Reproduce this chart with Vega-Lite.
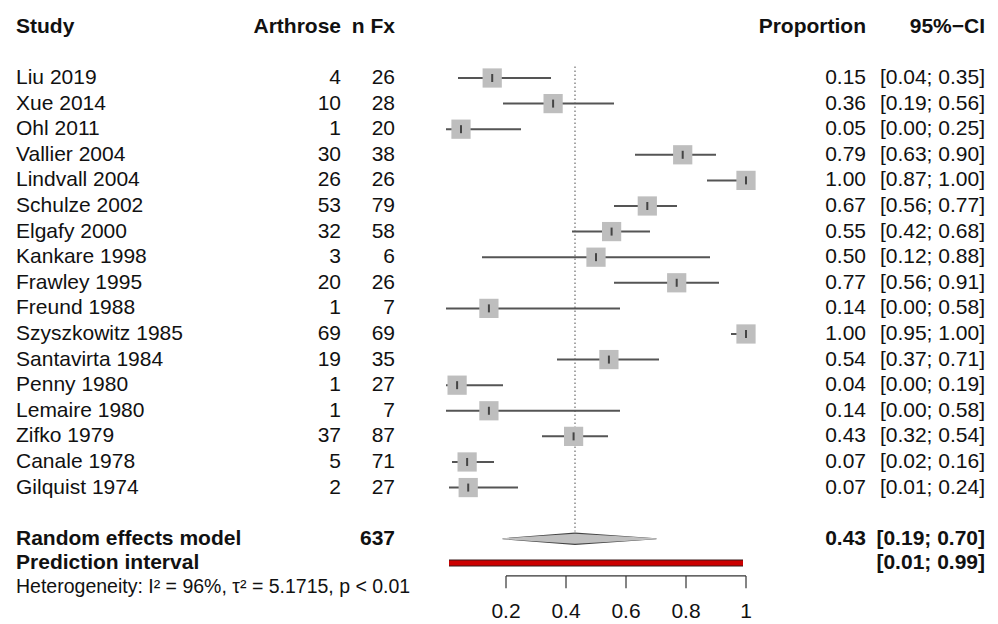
{
  "$schema": "https://vega.github.io/schema/vega-lite/v6.json",
  "width": 998,
  "height": 624,
  "padding": 0,
  "autosize": {"type": "fit", "contains": "padding"},
  "background": "white",
  "config": {
    "view": {"stroke": null},
    "text": {"font": "Liberation Sans", "fontSize": 21, "color": "#111111"}
  },
  "datasets": {
    "studies": [
      {"study": "Liu 2019", "events": 4, "n": 26, "prop": 0.154, "lo": 0.04, "hi": 0.35, "row": 1},
      {"study": "Xue 2014", "events": 10, "n": 28, "prop": 0.357, "lo": 0.19, "hi": 0.56, "row": 2},
      {"study": "Ohl 2011", "events": 1, "n": 20, "prop": 0.05, "lo": 0.0, "hi": 0.25, "row": 3},
      {"study": "Vallier 2004", "events": 30, "n": 38, "prop": 0.789, "lo": 0.63, "hi": 0.90, "row": 4},
      {"study": "Lindvall 2004", "events": 26, "n": 26, "prop": 1.0, "lo": 0.87, "hi": 1.0, "row": 5},
      {"study": "Schulze 2002", "events": 53, "n": 79, "prop": 0.671, "lo": 0.56, "hi": 0.77, "row": 6},
      {"study": "Elgafy 2000", "events": 32, "n": 58, "prop": 0.552, "lo": 0.42, "hi": 0.68, "row": 7},
      {"study": "Kankare 1998", "events": 3, "n": 6, "prop": 0.5, "lo": 0.12, "hi": 0.88, "row": 8},
      {"study": "Frawley 1995", "events": 20, "n": 26, "prop": 0.769, "lo": 0.56, "hi": 0.91, "row": 9},
      {"study": "Freund 1988", "events": 1, "n": 7, "prop": 0.143, "lo": 0.0, "hi": 0.58, "row": 10},
      {"study": "Szyszkowitz 1985", "events": 69, "n": 69, "prop": 1.0, "lo": 0.95, "hi": 1.0, "row": 11},
      {"study": "Santavirta 1984", "events": 19, "n": 35, "prop": 0.543, "lo": 0.37, "hi": 0.71, "row": 12},
      {"study": "Penny 1980", "events": 1, "n": 27, "prop": 0.037, "lo": 0.0, "hi": 0.19, "row": 13},
      {"study": "Lemaire 1980", "events": 1, "n": 7, "prop": 0.143, "lo": 0.0, "hi": 0.58, "row": 14},
      {"study": "Zifko 1979", "events": 37, "n": 87, "prop": 0.4253, "lo": 0.32, "hi": 0.54, "row": 15},
      {"study": "Canale 1978", "events": 5, "n": 71, "prop": 0.0704, "lo": 0.02, "hi": 0.16, "row": 16},
      {"study": "Gilquist 1974", "events": 2, "n": 27, "prop": 0.074, "lo": 0.01, "hi": 0.24, "row": 17}
    ],
    "model": [
      {"label": "Random effects model", "pi_label": "Prediction interval", "total": 637, "est": 0.43, "lo": 0.19, "hi": 0.70, "pi_lo": 0.01, "pi_hi": 0.99, "row": 19}
    ],
    "ticks": [
      {"v": 0.2, "label": "0.2"},
      {"v": 0.4, "label": "0.4"},
      {"v": 0.6, "label": "0.6"},
      {"v": 0.8, "label": "0.8"},
      {"v": 1.0, "label": "1"}
    ]
  },
  "layer": [
    {
      "data": {"name": "model"},
      "mark": {"type": "rule", "color": "#8a8a8a", "strokeWidth": 1.5, "strokeDash": [1.5, 2.5]},
      "encoding": {
        "x": {"field": "est", "type": "quantitative", "axis": null, "scale": {"domain": [-1.4867, 1.84], "nice": false, "zero": false}},
        "y": {"datum": 0.55, "type": "quantitative", "axis": null, "scale": {"domain": [-2.047, 22.33], "nice": false, "zero": false, "reverse": true}},
        "y2": {"datum": 18.72}
      }
    },
    {
      "data": {"name": "studies"},
      "mark": {"type": "rule", "color": "#555555", "strokeWidth": 2},
      "encoding": {
        "x": {"field": "lo", "type": "quantitative"},
        "x2": {"field": "hi"},
        "y": {"field": "row", "type": "quantitative"}
      }
    },
    {
      "data": {"name": "studies"},
      "mark": {"type": "point", "shape": "square", "filled": true, "color": "#bebebe", "opacity": 1, "size": 370},
      "encoding": {
        "x": {"field": "prop", "type": "quantitative"},
        "y": {"field": "row", "type": "quantitative"}
      }
    },
    {
      "data": {"name": "studies"},
      "mark": {"type": "tick", "orient": "vertical", "color": "#111111", "size": 8, "thickness": 2},
      "encoding": {
        "x": {"field": "prop", "type": "quantitative"},
        "y": {"field": "row", "type": "quantitative"}
      }
    },
    {
      "data": {"name": "studies"},
      "mark": {"type": "text", "align": "left", "baseline": "middle"},
      "encoding": {
        "x": {"datum": -1.4333},
        "y": {"field": "row", "type": "quantitative"},
        "text": {"field": "study"}
      }
    },
    {
      "data": {"name": "studies"},
      "mark": {"type": "text", "align": "right", "baseline": "middle"},
      "encoding": {
        "x": {"datum": -0.35},
        "y": {"field": "row", "type": "quantitative"},
        "text": {"field": "events"}
      }
    },
    {
      "data": {"name": "studies"},
      "mark": {"type": "text", "align": "right", "baseline": "middle"},
      "encoding": {
        "x": {"datum": -0.17},
        "y": {"field": "row", "type": "quantitative"},
        "text": {"field": "n"}
      }
    },
    {
      "data": {"name": "studies"},
      "mark": {"type": "text", "align": "right", "baseline": "middle"},
      "encoding": {
        "x": {"datum": 1.4},
        "y": {"field": "row", "type": "quantitative"},
        "text": {"field": "prop", "format": ".2f"}
      }
    },
    {
      "data": {"name": "studies"},
      "transform": [
        {"calculate": "'[' + format(datum.lo, '.2f') + '; ' + format(datum.hi, '.2f') + ']'", "as": "ci"}
      ],
      "mark": {"type": "text", "align": "right", "baseline": "middle"},
      "encoding": {
        "x": {"datum": 1.7967},
        "y": {"field": "row", "type": "quantitative"},
        "text": {"field": "ci"}
      }
    },
    {
      "data": {"values": [{}]},
      "mark": {"type": "text", "align": "left", "baseline": "middle", "fontWeight": "bold"},
      "encoding": {"x": {"datum": -1.4333}, "y": {"datum": -1}, "text": {"value": "Study"}}
    },
    {
      "data": {"values": [{}]},
      "mark": {"type": "text", "align": "right", "baseline": "middle", "fontWeight": "bold"},
      "encoding": {"x": {"datum": -0.35}, "y": {"datum": -1}, "text": {"value": "Arthrose"}}
    },
    {
      "data": {"values": [{}]},
      "mark": {"type": "text", "align": "right", "baseline": "middle", "fontWeight": "bold"},
      "encoding": {"x": {"datum": -0.17}, "y": {"datum": -1}, "text": {"value": "n Fx"}}
    },
    {
      "data": {"values": [{}]},
      "mark": {"type": "text", "align": "right", "baseline": "middle", "fontWeight": "bold"},
      "encoding": {"x": {"datum": 1.4}, "y": {"datum": -1}, "text": {"value": "Proportion"}}
    },
    {
      "data": {"values": [{}]},
      "mark": {"type": "text", "align": "right", "baseline": "middle", "fontWeight": "bold"},
      "encoding": {"x": {"datum": 1.7967}, "y": {"datum": -1}, "text": {"value": "95%−CI"}}
    },
    {
      "data": {"name": "model"},
      "mark": {"type": "text", "align": "left", "baseline": "middle", "fontWeight": "bold"},
      "encoding": {"x": {"datum": -1.4333}, "y": {"field": "row", "type": "quantitative"}, "text": {"field": "label"}}
    },
    {
      "data": {"name": "model"},
      "mark": {"type": "text", "align": "right", "baseline": "middle", "fontWeight": "bold"},
      "encoding": {"x": {"datum": -0.17}, "y": {"field": "row", "type": "quantitative"}, "text": {"field": "total"}}
    },
    {
      "data": {"name": "model"},
      "mark": {"type": "text", "align": "right", "baseline": "middle", "fontWeight": "bold"},
      "encoding": {"x": {"datum": 1.4}, "y": {"field": "row", "type": "quantitative"}, "text": {"field": "est", "format": ".2f"}}
    },
    {
      "data": {"name": "model"},
      "transform": [
        {"calculate": "'[' + format(datum.lo, '.2f') + '; ' + format(datum.hi, '.2f') + ']'", "as": "ci"}
      ],
      "mark": {"type": "text", "align": "right", "baseline": "middle", "fontWeight": "bold"},
      "encoding": {"x": {"datum": 1.7967}, "y": {"field": "row", "type": "quantitative"}, "text": {"field": "ci"}}
    },
    {
      "data": {"name": "model"},
      "mark": {"type": "text", "align": "left", "baseline": "middle", "fontWeight": "bold"},
      "encoding": {"x": {"datum": -1.4333}, "y": {"datum": 19.95}, "text": {"field": "pi_label"}}
    },
    {
      "data": {"name": "model"},
      "transform": [
        {"calculate": "'[' + format(datum.pi_lo, '.2f') + '; ' + format(datum.pi_hi, '.2f') + ']'", "as": "pici"}
      ],
      "mark": {"type": "text", "align": "right", "baseline": "middle", "fontWeight": "bold"},
      "encoding": {"x": {"datum": 1.7967}, "y": {"datum": 19.95}, "text": {"field": "pici"}}
    },
    {
      "data": {"values": [{}]},
      "mark": {"type": "text", "align": "left", "baseline": "middle", "fontSize": 19.5},
      "encoding": {"x": {"datum": -1.4333}, "y": {"datum": 20.88}, "text": {"value": "Heterogeneity: I² = 96%, τ² = 5.1715, p < 0.01"}}
    },
    {
      "data": {"name": "model"},
      "transform": [
        {"fold": ["lo", "est", "hi"], "as": ["key", "value"]}
      ],
      "mark": {"type": "trail", "fill": "#444444"},
      "encoding": {
        "x": {"field": "value", "type": "quantitative"},
        "y": {"field": "row", "type": "quantitative"},
        "size": {"condition": {"test": "datum.key === 'est'", "value": 12.5}, "value": 0}
      }
    },
    {
      "data": {"name": "model"},
      "transform": [
        {"fold": ["lo", "est", "hi"], "as": ["key", "value"]}
      ],
      "mark": {"type": "trail", "fill": "#c0c0c0"},
      "encoding": {
        "x": {"field": "value", "type": "quantitative"},
        "y": {"field": "row", "type": "quantitative"},
        "size": {"condition": {"test": "datum.key === 'est'", "value": 10}, "value": 0}
      }
    },
    {
      "data": {"name": "model"},
      "mark": {"type": "rule", "color": "#3a1a1a", "strokeWidth": 7},
      "encoding": {
        "x": {"field": "pi_lo", "type": "quantitative"},
        "x2": {"field": "pi_hi"},
        "y": {"datum": 19.95}
      }
    },
    {
      "data": {"name": "model"},
      "mark": {"type": "rule", "color": "#cc0000", "strokeWidth": 5},
      "encoding": {
        "x": {"field": "pi_lo", "type": "quantitative"},
        "x2": {"field": "pi_hi"},
        "y": {"datum": 19.95}
      }
    },
    {
      "data": {"values": [{"from": 0.2, "to": 1.0}]},
      "mark": {"type": "rule", "color": "#333333", "strokeWidth": 1.2},
      "encoding": {
        "x": {"field": "from", "type": "quantitative"},
        "x2": {"field": "to"},
        "y": {"datum": 20.45}
      }
    },
    {
      "data": {"name": "ticks"},
      "mark": {"type": "rule", "color": "#333333", "strokeWidth": 1.2},
      "encoding": {
        "x": {"field": "v", "type": "quantitative"},
        "y": {"datum": 20.45},
        "y2": {"datum": 20.93}
      }
    },
    {
      "data": {"name": "ticks"},
      "mark": {"type": "text", "align": "center", "baseline": "middle"},
      "encoding": {
        "x": {"field": "v", "type": "quantitative"},
        "y": {"datum": 21.86},
        "text": {"field": "label"}
      }
    }
  ]
}
